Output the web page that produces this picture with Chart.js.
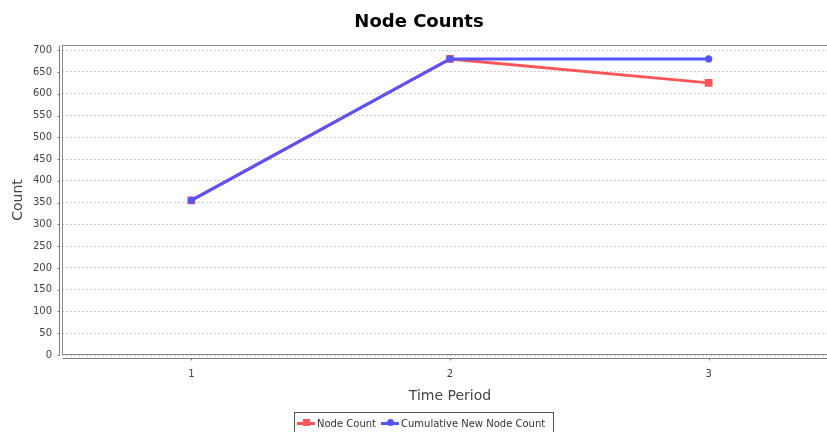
<!DOCTYPE html>
<html>
<head>
<meta charset="utf-8">
<script src="https://cdn.jsdelivr.net/npm/chart.js@4.4.0/dist/chart.umd.min.js"></script>
<style>
  body { margin: 0; background: #fff; overflow: hidden; }
  #wrap { position: relative; width: 827px; height: 432px; overflow: hidden; background: #fff; }
  #box { position: absolute; left: 0; top: 0; width: 844px; height: 432px; }
  #legend {
    position: absolute; left: 294px; top: 412px; width: 260px; height: 26px;
    box-sizing: border-box; border: 1px solid #555; padding: 0 0 4px 2px;
    display: flex; align-items: center;
    font: 10px "DejaVu Sans", sans-serif; color: #333; white-space: nowrap;
  }
  .item { display: flex; align-items: center; margin-right: 5px; }
  .icon { position: relative; width: 18px; height: 3px; margin-right: 2px; }
  .icon i { position: absolute; left: 6px; top: -2.5px; width: 7px; height: 7px; }
</style>
</head>
<body>
<div id="wrap">
  <div id="box"><canvas id="chart" width="844" height="432"></canvas></div>
  <div id="legend"></div>
</div>
<script>
  // data
  const periods = ['1', '2', '3'];
  const nodeCount = [355, 680, 625];
  const cumulativeNewNodeCount = [355, 680, 680];
  const yTickValues = [0, 50, 100, 150, 200, 250, 300, 350, 400, 450, 500, 550, 600, 650, 700];
  const seriesNames = ['Node Count', 'Cumulative New Node Count'];
  const seriesColors = ['#ff5555', '#5555ff'];
  const seriesShapes = ['rect', 'circle'];

  const FONT = '"DejaVu Sans", sans-serif';

  // plot outline + offset axis lines, JFreeChart style
  const frame = {
    id: 'frame',
    beforeDatasetsDraw(chart) {
      const { ctx, chartArea: a, scales: { x, y } } = chart;
      ctx.save();
      ctx.lineWidth = 1;
      ctx.strokeStyle = '#8a8a8a';
      const l = Math.round(a.left) + 0.5, t = Math.round(a.top) + 0.5;
      const r = Math.round(a.right) + 0.5, b = Math.round(a.bottom) - 0.5;
      ctx.strokeRect(l, t, r - l, b - t);

      ctx.strokeStyle = '#7a7a7a';
      ctx.beginPath();
      const ax = l - 3;
      ctx.moveTo(ax, t); ctx.lineTo(ax, b + 1);
      y.ticks.forEach(tk => {
        const py = Math.round(y.getPixelForValue(tk.value)) + 0.5;
        ctx.moveTo(ax - 2, py); ctx.lineTo(ax, py);
      });
      const ay = b + 4;
      ctx.moveTo(l, ay); ctx.lineTo(r, ay);
      x.ticks.forEach((tk, i) => {
        const px = Math.round(x.getPixelForTick(i)) + 0.5;
        ctx.moveTo(px, ay); ctx.lineTo(px, ay + 2);
      });
      ctx.stroke();
      ctx.restore();
    }
  };

  const datasets = [nodeCount, cumulativeNewNodeCount].map((vals, i) => ({
    label: seriesNames[i],
    data: vals,
    borderColor: seriesColors[i],
    backgroundColor: seriesColors[i],
    borderWidth: 3,
    pointStyle: seriesShapes[i],
    pointRadius: i === 0 ? 5.5 : 3.6,
    pointBorderWidth: 0,
    pointBackgroundColor: seriesColors[i],
    tension: 0,
    fill: false,
    order: i === 0 ? 1 : 0
  }));

  new Chart(document.getElementById('chart'), {
    type: 'line',
    data: { labels: periods, datasets },
    plugins: [frame],
    options: {
      responsive: false,
      animation: false,
      devicePixelRatio: 1,
      layout: { padding: { left: 0, right: 6, top: 0, bottom: 0 } },
      plugins: {
        legend: { display: false },
        tooltip: { enabled: false },
        title: {
          display: true,
          text: 'Node Counts',
          color: '#000',
          font: { family: FONT, size: 18, weight: 'bold' },
          padding: { top: 12, bottom: 11.4 }
        }
      },
      scales: {
        x: {
          type: 'category',
          offset: true,
          grid: { display: false, drawTicks: false },
          border: { display: false },
          ticks: { color: '#444', font: { family: FONT, size: 10 }, padding: 13 },
          title: {
            display: true, text: 'Time Period', color: '#444',
            font: { family: FONT, size: 14 }, padding: { top: 0, bottom: 27 }
          },
          afterFit(scale) { scale.height = 77; }
        },
        y: {
          min: 0,
          max: 712,
          grid: { color: '#cdcdcd', lineWidth: 1, drawTicks: false },
          border: { display: false, dash: [2, 2] },
          afterBuildTicks(scale) { scale.ticks = yTickValues.map(v => ({ value: v })); },
          ticks: { color: '#444', font: { family: FONT, size: 10 }, padding: 10 },
          title: {
            display: true, text: 'Count', color: '#444',
            font: { family: FONT, size: 14 }, padding: { top: 10, bottom: 0 }
          },
          afterFit(scale) { scale.width = 62; }
        }
      }
    }
  });

  // legend
  const legend = document.getElementById('legend');
  seriesNames.forEach((name, i) => {
    const item = document.createElement('span');
    item.className = 'item';
    const icon = document.createElement('span');
    icon.className = 'icon';
    icon.style.background = seriesColors[i];
    const mark = document.createElement('i');
    mark.style.background = seriesColors[i];
    if (seriesShapes[i] === 'circle') mark.style.borderRadius = '50%';
    icon.appendChild(mark);
    item.appendChild(icon);
    item.appendChild(document.createTextNode(name));
    legend.appendChild(item);
  });
</script>
</body>
</html>
